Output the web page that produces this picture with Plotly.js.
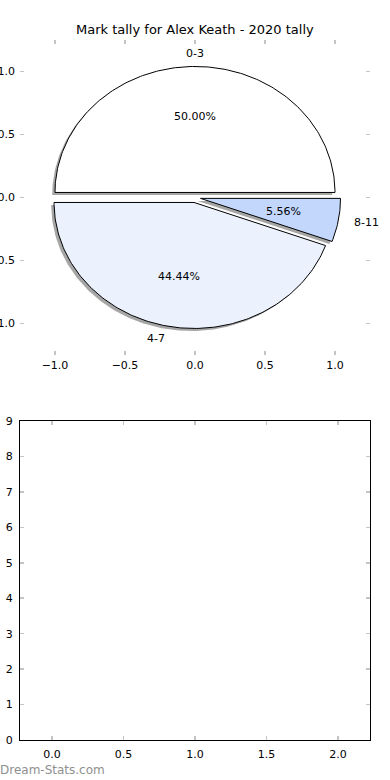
<!DOCTYPE html>
<html>
<head>
<meta charset="utf-8">
<script src="https://cdn.plot.ly/plotly-3.0.1.min.js"></script>
<style>html,body{margin:0;padding:0;background:#fff;}#chart{width:390px;height:780px;}</style>
</head>
<body>
<div id="chart"></div>
<script>
// ---- data ----
const categories = ['0-3', '4-7', '8-11'];
const counts = [9, 8, 1];
const sliceColors = ['#ffffff', '#ebf2fe', '#c3d7fd'];
const explode = [0.04, 0.04, 0.04];
const chartTitle = 'Mark tally for Alex Keath - 2020 tally';
const pieTicks = [-1.0, -0.5, 0.0, 0.5, 1.0];
const lowerXTicks = [0.0, 0.5, 1.0, 1.5, 2.0];
const lowerYTicks = [0, 1, 2, 3, 4, 5, 6, 7, 8, 9];
const watermark = 'Dream-Stats.com';

// ---- build pie wedges (matplotlib-like: start at 0 deg, counterclockwise) ----
const total = counts.reduce((a, b) => a + b, 0);
const traces = [];
const annotations = [];
const FONT = 'DejaVu Sans, sans-serif';
let theta = 0;
const geoms = counts.map((v, i) => {
  const t1 = theta, t2 = theta + 360 * v / total;
  theta = t2;
  const mid = (t1 + t2) / 2 * Math.PI / 180;
  const cx = explode[i] * Math.cos(mid), cy = explode[i] * Math.sin(mid);
  const xs = [cx], ys = [cy];
  const n = Math.max(8, Math.ceil((t2 - t1) / 1));
  for (let k = 0; k <= n; k++) {
    const a = (t1 + (t2 - t1) * k / n) * Math.PI / 180;
    xs.push(cx + Math.cos(a));
    ys.push(cy + Math.sin(a));
  }
  xs.push(cx); ys.push(cy);
  return {xs, ys, cx, cy, mid, pct: 100 * v / total};
});

// shadows first (below all wedges)
geoms.forEach(g => {
  traces.push({
    type: 'scatter', mode: 'lines', xaxis: 'x', yaxis: 'y',
    x: g.xs.map(x => x - 0.02), y: g.ys.map(y => y - 0.02),
    fill: 'toself', fillcolor: 'rgba(77,77,77,0.5)',
    line: {width: 0, color: 'rgba(0,0,0,0)'}, hoverinfo: 'skip', showlegend: false
  });
});
geoms.forEach((g, i) => {
  traces.push({
    type: 'scatter', mode: 'lines', xaxis: 'x', yaxis: 'y',
    x: g.xs, y: g.ys, fill: 'toself', fillcolor: sliceColors[i],
    line: {width: 1, color: '#000'}, hoverinfo: 'skip', showlegend: false
  });
  const lx = g.cx + 1.1 * Math.cos(g.mid), ly = g.cy + 1.1 * Math.sin(g.mid);
  annotations.push({
    xref: 'x', yref: 'y', x: lx, y: ly, text: categories[i], showarrow: false,
    xanchor: Math.abs(lx) < 1e-6 ? 'center' : (lx > 0 ? 'left' : 'right'), yanchor: 'middle',
    font: {family: FONT, size: 11, color: '#000'}
  });
  const px = g.cx + 0.6 * Math.cos(g.mid), py = g.cy + 0.6 * Math.sin(g.mid);
  annotations.push({
    xref: 'x', yref: 'y', x: px, y: py, text: g.pct.toFixed(2) + '%', showarrow: false,
    xanchor: 'center', yanchor: 'middle', font: {family: FONT, size: 11, color: '#000'}
  });
});

// empty lower panel
traces.push({type: 'scatter', mode: 'markers', x: [], y: [], xaxis: 'x2', yaxis: 'y2', showlegend: false});

annotations.push({
  xref: 'paper', yref: 'paper', x: 0.5, y: 1 - 30 / 780, text: chartTitle, showarrow: false,
  xanchor: 'center', yanchor: 'middle', font: {family: FONT, size: 13, color: '#000'}
});
annotations.push({
  xref: 'paper', yref: 'paper', x: -0.005, y: 1 - 770 / 780, text: watermark, showarrow: false,
  xanchor: 'left', yanchor: 'middle', font: {family: FONT, size: 12, color: '#8f8f8f'}
});

const tickCommon = {
  ticks: 'inside', ticklen: 4, tickwidth: 1.5, tickcolor: '#c4c4c4',
  showgrid: false, zeroline: false, tickfont: {family: FONT, size: 11, color: '#000'}
};

const layout = {
  width: 390, height: 780,
  margin: {l: 0, r: 0, t: 0, b: 0},
  paper_bgcolor: '#fff', plot_bgcolor: '#fff',
  showlegend: false,
  xaxis: Object.assign({}, tickCommon, {
    domain: [20 / 390, 370 / 390], range: [-1.25, 1.25], anchor: 'y',
    tickvals: pieTicks, tickformat: '.1f', showline: false, mirror: 'ticks', ticklabelstandoff: 2
  }),
  yaxis: Object.assign({}, tickCommon, {
    domain: [1 - 355 / 780, 1 - 40 / 780], range: [-1.25, 1.25], anchor: 'x',
    tickvals: pieTicks, tickformat: '.1f', showline: false, mirror: 'ticks', ticklabelstandoff: 4
  }),
  xaxis2: Object.assign({}, tickCommon, {
    domain: [20 / 390, 370 / 390], range: [-0.224, 2.224], anchor: 'y2',
    tickvals: lowerXTicks, tickformat: '.1f', showline: true, linecolor: '#000', linewidth: 1, mirror: 'ticks', ticklabelstandoff: 4
  }),
  yaxis2: Object.assign({}, tickCommon, {
    domain: [1 - 740 / 780, 1 - 421 / 780], range: [0, 9], anchor: 'x2',
    tickvals: lowerYTicks, showline: true, linecolor: '#000', linewidth: 1, mirror: 'ticks', ticklabelstandoff: 4
  }),
  annotations: annotations
};

Plotly.newPlot('chart', traces, layout, {staticPlot: true, displayModeBar: false});
</script>
</body>
</html>
